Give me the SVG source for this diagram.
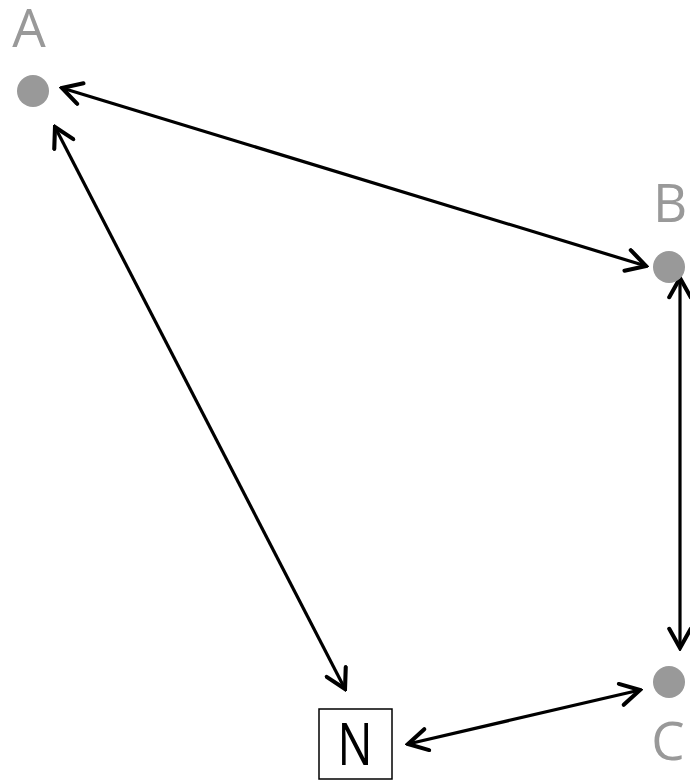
<svg xmlns="http://www.w3.org/2000/svg" width="690" height="783" viewBox="0 0 690 783">
  <defs>
    <marker id="arrow" viewBox="0 0 10 10" refX="9" refY="5" markerWidth="8" markerHeight="8" orient="auto-start-reverse" markerUnits="strokeWidth">
      <path d="M1.5,0.8 L9,5 L1.5,9.2" fill="none" stroke="#000" stroke-width="1.6" stroke-linecap="round" stroke-linejoin="miter"/>
    </marker>
  </defs>
  <style>
    .dot { fill: #999; }
    .lbl { font-family: "Open Sans", "Liberation Sans", sans-serif; font-size: 53px; fill: #999; text-anchor: middle; }
    .box { fill: #fff; stroke: #000; stroke-width: 1.5; }
    .ntext { font-family: "Open Sans", "Liberation Sans", sans-serif; font-size: 58px; fill: #000; text-anchor: middle; }
    .edge { stroke: #000; stroke-width: 3.2; fill: none; marker-start: url(#arrow); marker-end: url(#arrow); }
  </style>
  <rect width="690" height="783" fill="#fff"/>
  <g id="connectors">
    <line class="edge" x1="62" y1="88" x2="646" y2="266"/>
    <line class="edge" x1="55" y1="127" x2="345" y2="689"/>
    <line class="edge" x1="680" y1="278" x2="680" y2="648"/>
    <line class="edge" x1="408" y1="744" x2="640" y2="690"/>
  </g>
  <g id="node-A">
    <circle class="dot" cx="33" cy="91" r="16"/>
    <text class="lbl" x="29" y="47">A</text>
  </g>
  <g id="node-B">
    <circle class="dot" cx="669" cy="267" r="16"/>
    <text class="lbl" x="670" y="222">B</text>
  </g>
  <g id="node-C">
    <circle class="dot" cx="669" cy="682" r="16"/>
    <text class="lbl" x="668" y="760">C</text>
  </g>
  <g id="node-N">
    <rect class="box" x="319" y="709" width="73" height="70"/>
    <text class="ntext" x="355" y="765" textLength="35" lengthAdjust="spacingAndGlyphs">N</text>
  </g>
</svg>
